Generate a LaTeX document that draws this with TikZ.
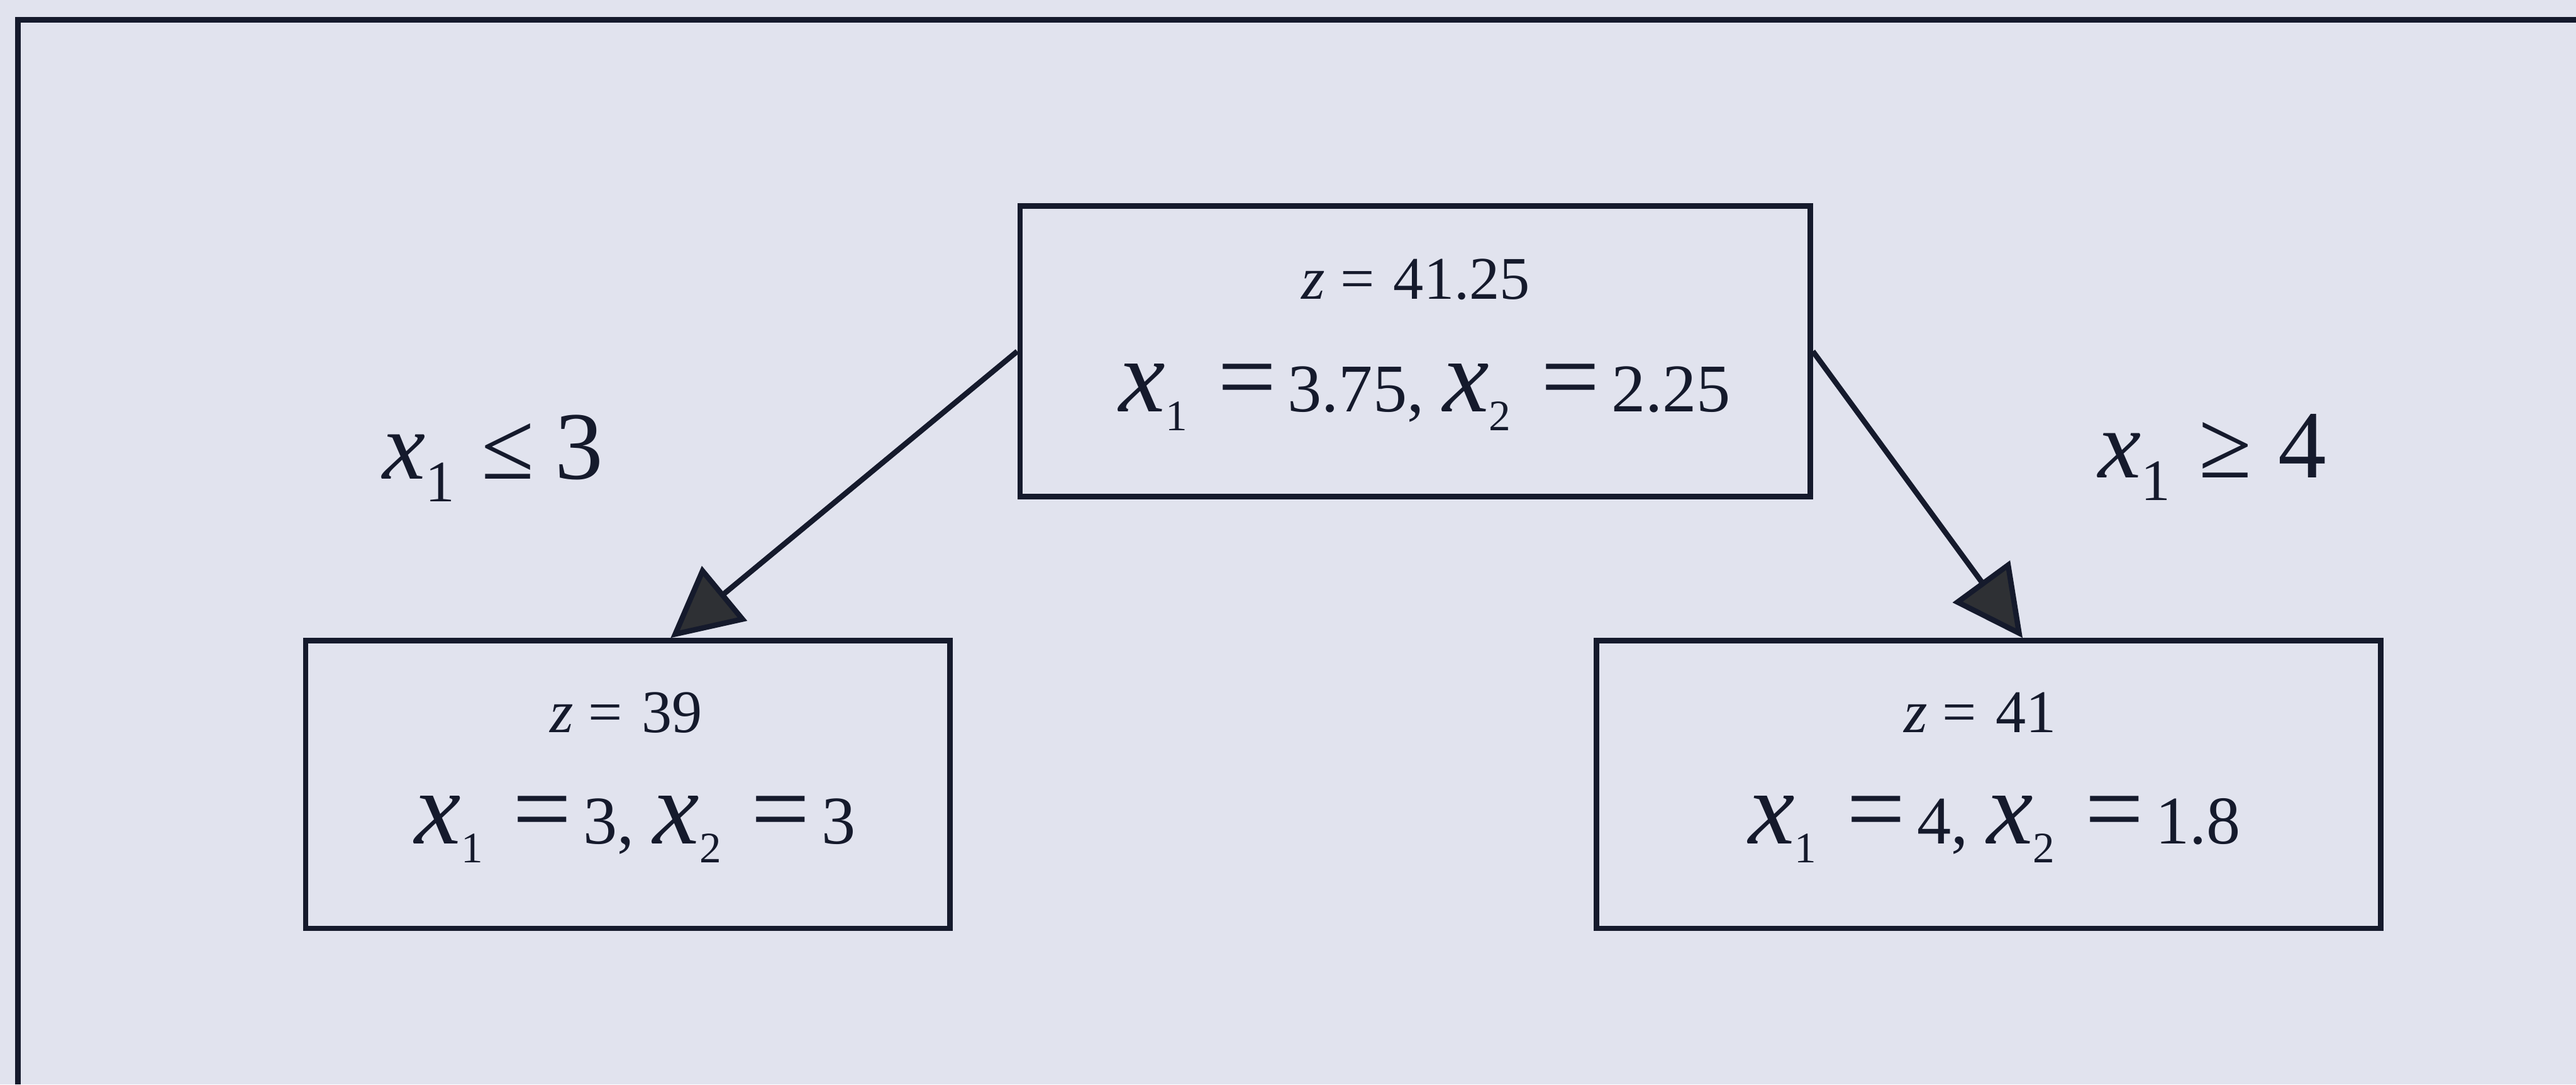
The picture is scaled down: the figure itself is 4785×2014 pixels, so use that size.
\documentclass[tikz,border=0pt]{standalone}
\usepackage{fontspec}
\setmainfont{Liberation Serif}
\usetikzlibrary{arrows.meta,calc}
\definecolor{bg}{HTML}{E1E3EE}
\definecolor{ink}{HTML}{151A2C}
\definecolor{headfill}{HTML}{2E3034}
\newcommand\fs[1]{\fontsize{#1}{#1}\selectfont}
\newcommand\vxb[1]{{\fs{55pt}\itshape x}\raisebox{-10pt}{\fs{23pt}#1}}
\newcommand\eqb{{\fs{55pt}=}}
\newcommand\vxl[1]{{\fs{51pt}\itshape x}\raisebox{-12pt}{\fs{31pt}#1}}
\begin{document}
\begin{tikzpicture}[x=0.01cm,y=-0.01cm,
  nodebox/.style={draw=ink,line width=1mm,rectangle,inner sep=0pt},
  txt/.style={anchor=base,inner sep=0pt,text=ink},
  conn/.style={draw=ink,line width=1mm,-{Triangle[length=13mm,width=13mm,fill=headfill]}},
  frame/.style={draw=ink,line width=1mm}]
\fill[bg] (0,0) rectangle (4785,2014);
\useasboundingbox (0,0) rectangle (4785,2014);
\draw[frame] (33,2014) -- (33,37) -- (4785,37);

\node[nodebox,minimum width=146.7mm,minimum height=53.9mm] (root) at (2628.5,652.5) {};
\node[nodebox,minimum width=119.6mm,minimum height=53.4mm] (left) at (1166,1457) {};
\node[nodebox,minimum width=145.6mm,minimum height=53.4mm] (right) at (3694,1457) {};

\node[txt] (rootz) at (2630,555) {\fs{32pt}{\itshape z}\hspace{8pt}=\hspace{10pt}41.25};
\node[txt] (rootx) at (2647,765) {\fs{36pt}\vxb{1}\hspace{16pt}\eqb\hspace{6pt}3.75,\hspace{10pt}\vxb{2}\hspace{16pt}\eqb\hspace{6pt}2.25};

\node[txt] (leftz) at (1163,1360) {\fs{32pt}{\itshape z}\hspace{8pt}=\hspace{10pt}39};
\node[txt] (leftx) at (1180,1567) {\fs{36pt}\vxb{1}\hspace{16pt}\eqb\hspace{6pt}3,\hspace{10pt}\vxb{2}\hspace{16pt}\eqb\hspace{6pt}3};

\node[txt] (rightz) at (3678,1360) {\fs{32pt}{\itshape z}\hspace{8pt}=\hspace{10pt}41};
\node[txt] (rightx) at (3705,1567) {\fs{36pt}\vxb{1}\hspace{16pt}\eqb\hspace{6pt}4,\hspace{10pt}\vxb{2}\hspace{16pt}\eqb\hspace{6pt}1.8};

\node[txt] (lab1) at (916,890) {\vxl{1}\hspace{14pt}{\fs{51pt}≤\hspace{11pt}3}};
\node[txt] (lab2) at (4110,887) {\vxl{1}\hspace{15pt}{\fs{51pt}≥\hspace{14pt}4}};

\draw[conn] (root.west) -- ($(left.north west)!0.566!(left.north east)$);
\draw[conn] (root.east) -- ($(right.north west)!0.543!(right.north east)$);
\end{tikzpicture}
\end{document}
